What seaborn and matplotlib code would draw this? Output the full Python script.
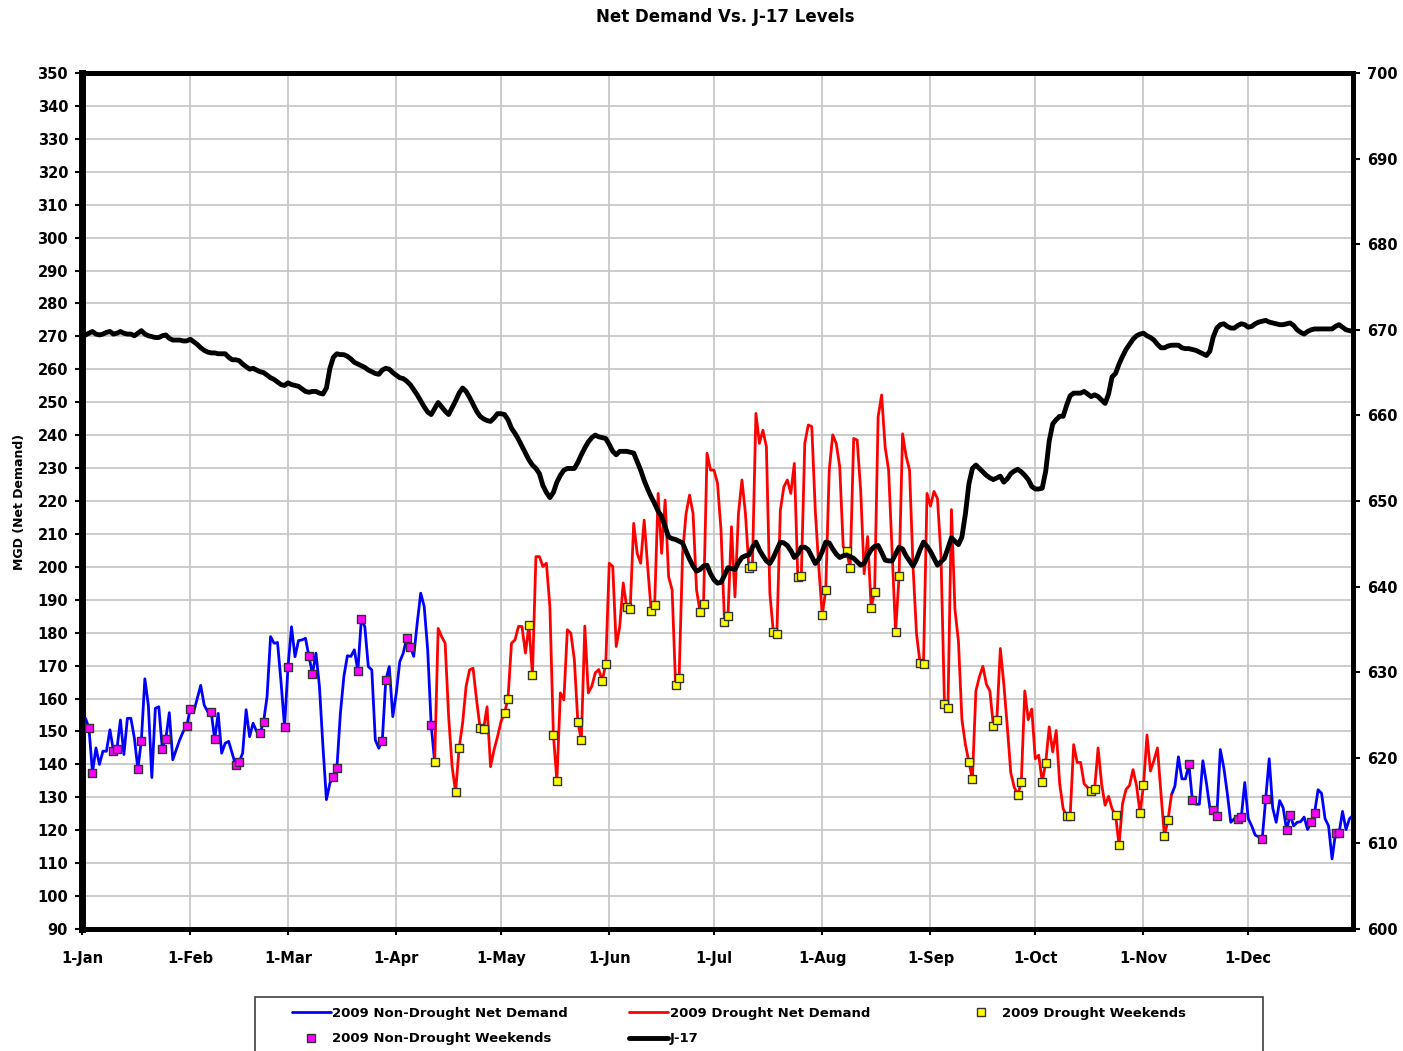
import pandas as pd
import matplotlib
matplotlib.use('Agg')
import matplotlib.pyplot as plt
import matplotlib.patches as patches
from matplotlib.lines import Line2D
import seaborn as sns

# daily values for 2009
dates = pd.date_range('2009-01-01', '2009-12-31', freq='D')

net_demand = [
    146, 154, 151, 137.5, 145, 140, 144, 144, 150.5, 144.2,
    144.6, 153.5, 143, 154, 154, 148, 138.6, 147.2, 166, 158,
    136, 157, 157.5, 144.7, 147.7, 155.7, 141.4, 144.5, 147.5, 150,
    151.6, 156.9, 156, 160, 164, 158, 156, 155.9, 147.6, 155.5,
    143.4, 146.4, 147, 143.4, 139.8, 140.7, 143.4, 156.6, 148.4, 152.5,
    150, 149.5, 152.9, 160.6, 178.8, 176.8, 177, 165, 151.4, 169.7,
    181.8, 172.7, 177.6, 177.8, 178.3, 172.8, 167.5, 173.8, 163.7, 145.5,
    129.3, 134.3, 136.3, 138.9, 155.5, 166.7, 173, 172.8, 174.8, 168.4,
    184.2, 181.8, 169.7, 168.7, 147.4, 144.9, 147.2, 165.6, 169.7, 154.5,
    161.6, 171.2, 173.8, 178.5, 175.8, 172.8, 182.9, 192, 188, 174.8,
    152, 140.7, 181.3, 178.8, 176.8, 154.5, 139.3, 131.6, 145, 152.5,
    163.7, 168.7, 169.2, 159.6, 151.1, 150.7, 157.5, 139.3, 144.4, 148.4,
    153, 155.6, 160, 176.8, 177.8, 181.9, 181.9, 173.8, 182.3, 167.1,
    203.1, 203.1, 200.1, 201.1, 187.9, 149, 135, 161.7, 159.6, 180.9,
    179.9, 171.8, 153, 147.3, 182, 161.7, 163.7, 167.8, 168.8, 165.3,
    170.6, 201.1, 200.1, 175.8, 181.9, 195.1, 187.7, 187.2, 213.2, 204.1,
    201.1, 214.2, 200.1, 186.7, 188.4, 222.3, 204.1, 220.3, 197, 193,
    164, 166.1, 204.1, 216.2, 221.8, 216.2, 193, 186.4, 188.8, 234.5,
    229.4, 229.4, 225.4, 211.2, 183.2, 185, 212.2, 190.9, 216.2, 226.4,
    216.2, 199.5, 200.4, 246.6, 237.5, 241.5, 236.5, 191.9, 180.1, 179.7,
    217.2, 224.3, 226.4, 222.3, 231.4, 196.8, 197.2, 237.5, 243.1, 242.6,
    217.2, 200, 185.4, 192.9, 229.4, 240.1, 237.5, 230.4, 206.1, 204.7,
    199.5, 239, 238.5, 223.3, 197.9, 209.2, 187.6, 192.4, 245.6, 252.2,
    236.5, 229.4, 205, 180.1, 197.2, 240.4, 233.7, 229.4, 200.1, 179.6,
    170.9, 170.6, 222.3, 218.5, 222.9, 220.7, 203.4, 158.2, 157, 217.4,
    187.1, 177.4, 153.6, 146, 140.8, 135.5, 162.3, 166.6, 169.8, 164.4,
    162.3, 151.8, 153.6, 175.2, 164.4, 151.4, 137.4, 133, 130.8, 134.5,
    162.3, 153.6, 156.8, 141.7, 142.8, 134.6, 140.5, 151.4, 143.8, 150.3,
    134.1, 126.5, 124.3, 124.3, 146, 140.6, 140.6, 134.1, 133, 131.8,
    132.5, 145, 134.1, 127.6, 130.3, 126.5, 124.6, 115.5, 128.1, 132.4,
    133.6, 138.4, 133.6, 125.3, 133.6, 148.9, 138, 141.2, 145, 131.2,
    118.2, 123, 130.7, 133.4, 142.3, 135.6, 135.6, 140, 129.2, 127.9,
    127.9, 141.1, 134.5, 126.8, 126.1, 124.4, 144.5, 139, 131.2, 122.4,
    123.5, 123.5, 123.9, 134.5, 123.5, 121.3, 118.5, 118, 117.3, 129.6,
    141.7, 126.8, 122.4, 129, 126.8, 120, 124.7, 121.3, 122.4, 122.6,
    124, 120.2, 122.6, 125.3, 132.3, 131.2, 123.5, 121.3, 111.3, 119.1,
    119.1, 125.7, 120.2, 123.5, 124.6,
]

j17 = [
    669.2, 669.4, 669.6, 669.8, 669.5, 669.4, 669.5, 669.7, 669.8, 669.5,
    669.6, 669.8, 669.6, 669.5, 669.5, 669.3, 669.6, 669.9, 669.5, 669.3,
    669.2, 669.1, 669.1, 669.3, 669.4, 669.0, 668.8, 668.8, 668.8, 668.7,
    668.7, 668.9, 668.6, 668.3, 667.9, 667.6, 667.4, 667.3, 667.3, 667.2,
    667.2, 667.2, 666.8, 666.5, 666.5, 666.4, 666.0, 665.7, 665.4, 665.5,
    665.3, 665.1, 665.0, 664.7, 664.4, 664.2, 663.9, 663.6, 663.5, 663.8,
    663.6, 663.5, 663.4, 663.1, 662.8, 662.7, 662.8, 662.8, 662.6, 662.5,
    663.2, 665.5, 666.8, 667.2, 667.1, 667.1, 666.9, 666.6, 666.2, 666.0,
    665.8, 665.6, 665.3, 665.1, 664.9, 664.8, 665.3, 665.5, 665.4, 665.0,
    664.7, 664.4, 664.3, 664.0, 663.6, 663.0, 662.4, 661.7, 661.0, 660.4,
    660.1, 660.8, 661.5, 661.0, 660.5, 660.1, 660.9, 661.7, 662.6, 663.2,
    662.8, 662.1, 661.3, 660.5, 659.9, 659.6, 659.4, 659.3, 659.7, 660.2,
    660.2, 660.1, 659.5, 658.5, 657.9, 657.2, 656.4, 655.6, 654.8, 654.2,
    653.8, 653.2, 651.8, 651.0, 650.4, 651.0, 652.2, 653.0, 653.6, 653.8,
    653.8, 653.8, 654.5, 655.4, 656.2, 656.9, 657.4, 657.7, 657.5, 657.4,
    657.3, 656.6, 655.8, 655.4, 655.8, 655.8, 655.8, 655.7, 655.6, 654.6,
    653.6, 652.4, 651.4, 650.5, 649.7, 648.8, 648.2, 647.0, 645.8, 645.6,
    645.5, 645.3, 645.1, 644.1, 643.2, 642.4, 641.8, 642.0, 642.4, 642.5,
    641.5, 640.8, 640.4, 640.5, 641.3, 642.2, 642.1, 642.0, 642.8, 643.4,
    643.6, 643.7, 644.6, 645.2, 644.3, 643.6, 643.0, 642.7, 643.4, 644.3,
    645.2, 645.1, 644.8, 644.2, 643.4, 643.8, 644.6, 644.6, 644.3, 643.5,
    642.7, 643.2, 644.1, 645.2, 645.1, 644.4, 643.8, 643.4, 643.6, 643.7,
    643.5, 643.3, 642.9, 642.5, 642.7, 643.6, 644.3, 644.7, 644.8, 644.0,
    643.1, 643.0, 643.0, 643.8, 644.6, 644.4, 643.6, 643.0, 642.4, 643.2,
    644.3, 645.2, 644.7, 644.1, 643.3, 642.5, 642.9, 643.3, 644.5, 645.7,
    645.3, 644.9, 645.8, 648.5, 652.0, 653.8, 654.2, 653.8, 653.4, 653.0,
    652.7, 652.5, 652.7, 652.9, 652.2, 652.6, 653.2, 653.5, 653.7, 653.4,
    653.0, 652.5, 651.7, 651.4, 651.4, 651.5, 653.5, 657.0, 659.0, 659.5,
    659.9, 659.9, 661.2, 662.3, 662.6, 662.6, 662.6, 662.8, 662.5, 662.2,
    662.4, 662.2, 661.8, 661.4, 662.5, 664.5, 664.9, 666.0, 666.9, 667.7,
    668.3, 668.9, 669.3, 669.5, 669.6, 669.3, 669.1, 668.8, 668.3, 667.9,
    667.9, 668.1, 668.2, 668.2, 668.2, 667.9, 667.8, 667.8, 667.7, 667.6,
    667.4, 667.2, 667.0, 667.5, 669.2, 670.2, 670.6, 670.7, 670.4, 670.2,
    670.2, 670.5, 670.7, 670.6, 670.3, 670.4, 670.7, 670.9, 671.0, 671.1,
    670.9, 670.8, 670.7, 670.6, 670.6, 670.7, 670.8, 670.5, 670.0, 669.7,
    669.5, 669.8, 670.0, 670.1, 670.1, 670.1, 670.1, 670.1, 670.1, 670.4,
    670.6, 670.3, 670.0, 669.9, 669.8,
]

drought_start = pd.Timestamp('2009-04-12')
drought_end = pd.Timestamp('2009-11-08')

month_starts = pd.date_range('2009-01-01', periods=12, freq='MS')
month_labels = ['1-Jan', '1-Feb', '1-Mar', '1-Apr', '1-May', '1-Jun',
                '1-Jul', '1-Aug', '1-Sep', '1-Oct', '1-Nov', '1-Dec']

df = pd.DataFrame({'date': dates, 'demand': net_demand, 'j17': j17})
df['drought'] = (df['date'] >= drought_start) & (df['date'] <= drought_end)
df['weekend'] = df['date'].dt.dayofweek >= 5

sns.set_style('white')
plt.rcParams['font.family'] = ['DejaVu Sans']
plt.rcParams['text.color'] = 'black'
plt.rcParams['xtick.color'] = 'black'
plt.rcParams['ytick.color'] = 'black'
plt.rcParams['axes.labelcolor'] = 'black'

fig = plt.figure(figsize=(14.03, 10.51), dpi=100)
ax = fig.add_axes([82 / 1403, 1 - 929 / 1051, 1271 / 1403, 856 / 1051])

# net demand lines (blue before/after the drought, red during it)
after_end = drought_end + pd.Timedelta(days=1)
seg1 = df[df['date'] <= drought_start]
seg2 = df[(df['date'] >= drought_start) & (df['date'] <= after_end)]
seg3 = df[df['date'] >= after_end]
for seg, col in [(seg1, '#0000FF'), (seg3, '#0000FF'), (seg2, '#FF0000')]:
    sns.lineplot(data=seg, x='date', y='demand', color=col, lw=2,
                 estimator=None, ax=ax, legend=False, zorder=3)

# weekend markers
wk_nd = df[df['weekend'] & ~df['drought']]
wk_d = df[df['weekend'] & df['drought']]
sns.scatterplot(data=wk_nd, x='date', y='demand', marker='s', color='#FF00FF',
                edgecolor='#333333', linewidth=1, s=32, ax=ax, zorder=4)
sns.scatterplot(data=wk_d, x='date', y='demand', marker='s', color='#FFFF00',
                edgecolor='#333333', linewidth=1, s=32, ax=ax, zorder=4)

ax.set_xlim(dates[0], dates[-1])
ax.set_ylim(90, 350)
ax.set_yticks(range(90, 351, 10))
ax.set_yticklabels([str(v) for v in range(90, 351, 10)], fontweight='bold', fontsize=10.5)
ax.set_xticks(month_starts)
ax.set_xticklabels(month_labels, fontweight='bold', fontsize=10.5)
ax.grid(True, color='#C8C8C8', lw=1.3)
ax.set_xlabel('')
ax.set_ylabel('')
ax.tick_params(axis='y', direction='out', length=5, width=1.5, pad=5, left=True)
ax.tick_params(axis='x', direction='out', length=4, width=1.5, pad=12, bottom=True)

# J-17 on the secondary axis
ax2 = ax.twinx()
sns.lineplot(data=df, x='date', y='j17', color='black', lw=3.5,
             estimator=None, ax=ax2, legend=False)
ax2.set_ylim(600, 700)
ax2.set_yticks(range(600, 701, 10))
ax2.set_yticklabels([str(v) for v in range(600, 701, 10)], fontweight='bold', fontsize=10.5)
ax2.set_ylabel('')
ax2.set_xlim(dates[0], dates[-1])
ax2.tick_params(axis='y', direction='out', length=5, width=1.5, pad=5, right=True)

for a in (ax, ax2):
    for s in a.spines.values():
        s.set_linewidth(3.5)
        s.set_color('black')
ax.spines['left'].set_linewidth(5)

fig.text(725 / 1403, 1 - 17 / 1051, 'Net Demand Vs. J-17 Levels',
         ha='center', va='center', fontsize=12, fontweight='bold')
fig.text(20 / 1403, 1 - 502 / 1051, 'MGD (Net Demand)', rotation=90,
         ha='center', va='center', fontsize=9, fontweight='bold',
         family=['Liberation Sans Narrow', 'DejaVu Sans'])

# legend: frame drawn by hand, three columns placed like the original
fig.patches.append(patches.Rectangle((255 / 1403, -0.02), 1008 / 1403, 0.02 + 1 - 997 / 1051,
                                     transform=fig.transFigure, fill=False,
                                     edgecolor='#404040', lw=1.2))
h_blue = Line2D([], [], color='#0000FF', lw=2)
h_red = Line2D([], [], color='#FF0000', lw=2)
h_blk = Line2D([], [], color='black', lw=3.5)
h_yel = Line2D([], [], ls='none', marker='s', markersize=6,
               markerfacecolor='#FFFF00', markeredgecolor='#333333')
h_mag = Line2D([], [], ls='none', marker='s', markersize=6,
               markerfacecolor='#FF00FF', markeredgecolor='#333333')
columns = [
    (285, [h_blue, h_mag], ['2009 Non-Drought Net Demand', '2009 Non-Drought Weekends']),
    (622, [h_red, h_blk], ['2009 Drought Net Demand', 'J-17']),
    (955, [h_yel], ['2009 Drought Weekends']),
]
for x0, hs, labs in columns:
    leg = fig.legend(hs, labs, loc='upper left', bbox_to_anchor=(x0 / 1403, 1 - 1000 / 1051),
                     frameon=False, borderpad=0, handlelength=3.0, handletextpad=0.1,
                     labelspacing=0.95, prop={'weight': 'bold', 'size': 9.5})

fig.savefig('out.png', dpi=100)
